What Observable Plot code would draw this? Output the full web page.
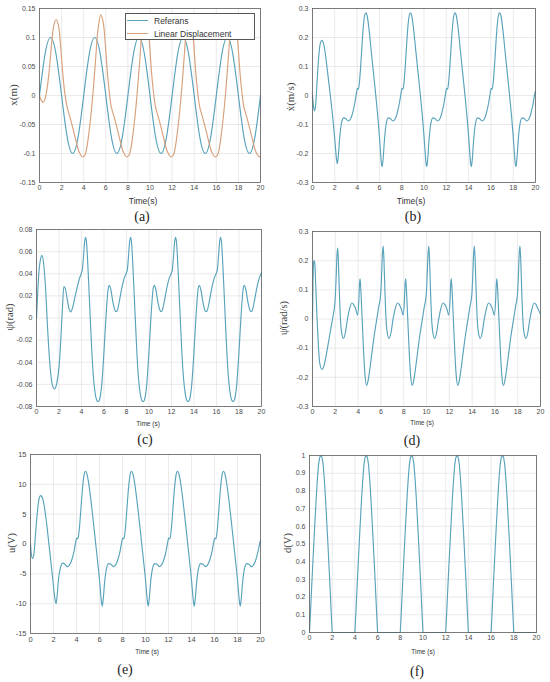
<!DOCTYPE html>
<html><head><meta charset="utf-8">
<script src="https://cdn.jsdelivr.net/npm/d3@7"></script>
<script src="https://cdn.jsdelivr.net/npm/@observablehq/plot@0.6"></script>
<style>
body{margin:0;background:#fff;}
#fig{position:relative;width:550px;height:682px;overflow:hidden;background:#fff;}
.lab{position:absolute;white-space:nowrap;line-height:1;transform:translate(-50%,-50%);}
.ylab{position:absolute;white-space:nowrap;line-height:1;transform:translate(-50%,-50%) rotate(-90deg);font-family:"Liberation Serif","Times New Roman",serif;color:#444;}
</style></head>
<body><div id="fig"></div>
<script>
// ---------- DATA ----------
const xTicks = [0,2,4,6,8,10,12,14,16,18,20];
const xTickLabels = ["0","2","4","6","8","10","12","14","16","18","20"];

const yTicksA = [-0.15,-0.1,-0.05,0,0.05,0.1,0.15];
const yTickLabelsA = ["-0.15","-0.1","-0.05","0","0.05","0.1","0.15"];
const yTicksB = [-0.3,-0.2,-0.1,0,0.1,0.2,0.3];
const yTickLabelsB = ["-0.3","-0.2","-0.1","0","0.1","0.2","0.3"];
const yTicksC = [-0.08,-0.06,-0.04,-0.02,0,0.02,0.04,0.06,0.08];
const yTickLabelsC = ["-0.08","-0.06","-0.04","-0.02","0","0.02","0.04","0.06","0.08"];
const yTicksD = [-0.3,-0.2,-0.1,0,0.1,0.2,0.3];
const yTickLabelsD = ["-0.3","-0.2","-0.1","0","0.1","0.2","0.3"];
const yTicksE = [-15,-10,-5,0,5,10,15];
const yTickLabelsE = ["-15","-10","-5","0","5","10","15"];
const yTicksF = [0,0.1,0.2,0.3,0.4,0.5,0.6,0.7,0.8,0.9,1];
const yTickLabelsF = ["0","0.1","0.2","0.3","0.4","0.5","0.6","0.7","0.8","0.9","1"];

const seriesNames = ["Referans","Linear Displacement"];

// (a) x(m): reference and linear displacement
const referans = [[0,0],[0.5,0.071],[1,0.1],[1.5,0.071],[2,0],[2.5,-0.071],[3,-0.1],[3.5,-0.071],
[4,0],[4.5,0.071],[5,0.1],[5.5,0.071],[6,0],[6.5,-0.071],[7,-0.1],[7.5,-0.071],
[8,0],[8.5,0.071],[9,0.1],[9.5,0.071],[10,0],[10.5,-0.071],[11,-0.1],[11.5,-0.071],
[12,0],[12.5,0.071],[13,0.1],[13.5,0.071],[14,0],[14.5,-0.071],[15,-0.1],[15.5,-0.071],
[16,0],[16.5,0.071],[17,0.1],[17.5,0.071],[18,0],[18.5,-0.071],[19,-0.1],[19.5,-0.071],[20,0]];

const linearDisp = [[0,0],[0.15,-0.008],[0.33,-0.012],[0.5,-0.006],[0.7,0.014],[0.9,0.047],[1.1,0.09],[1.3,0.121],[1.5,0.131],[1.7,0.122],[1.9,0.088],[2.1,0.04],[2.3,0.002],[2.5,-0.02],[2.75,-0.037],[3.0,-0.055],[3.3,-0.078],[3.6,-0.098],[3.9,-0.106],
[4.1,-0.103],[4.3,-0.088],[4.5,-0.06],[4.7,-0.025],[4.9,0.018],[5.1,0.068],[5.3,0.115],[5.55,0.139],[5.75,0.128],[5.95,0.09],[6.15,0.038],[6.35,0.0],[6.5,-0.02],[6.75,-0.037],[7.0,-0.055],[7.3,-0.078],[7.6,-0.098],[7.9,-0.106],
[8.1,-0.103],[8.3,-0.088],[8.5,-0.06],[8.7,-0.025],[8.9,0.018],[9.1,0.068],[9.3,0.115],[9.55,0.139],[9.75,0.128],[9.95,0.09],[10.15,0.038],[10.35,0.0],[10.5,-0.02],[10.75,-0.037],[11.0,-0.055],[11.3,-0.078],[11.6,-0.098],[11.9,-0.106],
[12.1,-0.103],[12.3,-0.088],[12.5,-0.06],[12.7,-0.025],[12.9,0.018],[13.1,0.068],[13.3,0.115],[13.55,0.139],[13.75,0.128],[13.95,0.09],[14.15,0.038],[14.35,0.0],[14.5,-0.02],[14.75,-0.037],[15.0,-0.055],[15.3,-0.078],[15.6,-0.098],[15.9,-0.106],
[16.1,-0.103],[16.3,-0.088],[16.5,-0.06],[16.7,-0.025],[16.9,0.018],[17.1,0.068],[17.3,0.115],[17.55,0.139],[17.75,0.128],[17.95,0.09],[18.15,0.038],[18.35,0.0],[18.5,-0.02],[18.75,-0.037],[19.0,-0.055],[19.3,-0.078],[19.6,-0.098],[19.9,-0.106],[20,-0.105]];

// (b) x-dot (m/s)
const velocity = [[0,0],[0.08,-0.035],[0.18,-0.053],[0.28,-0.035],[0.4,0.04],[0.55,0.13],[0.7,0.18],[0.84,0.19],[1.0,0.178],[1.2,0.13],[1.4,0.065],[1.6,0.0],[1.8,-0.07],[1.95,-0.13],[2.07,-0.185],[2.15,-0.22],[2.23,-0.235],[2.31,-0.21],[2.43,-0.15],[2.6,-0.095],[2.8,-0.077],[3.0,-0.08],[3.2,-0.088],[3.4,-0.082],[3.6,-0.06],[3.8,-0.025],[3.95,0.01],
[4.02,0.025],[4.12,0.022],[4.22,0.05],[4.37,0.13],[4.52,0.22],[4.67,0.275],[4.78,0.285],[4.9,0.275],[5.05,0.235],[5.25,0.16],[5.45,0.085],[5.65,0.01],[5.85,-0.07],[6.0,-0.14],[6.1,-0.195],[6.17,-0.23],[6.25,-0.245],[6.33,-0.22],[6.45,-0.155],[6.6,-0.1],[6.8,-0.077],[7.0,-0.08],[7.2,-0.088],[7.4,-0.082],[7.6,-0.06],[7.8,-0.025],[7.95,0.01],
[8.02,0.025],[8.12,0.022],[8.22,0.05],[8.37,0.13],[8.52,0.22],[8.67,0.275],[8.78,0.285],[8.9,0.275],[9.05,0.235],[9.25,0.16],[9.45,0.085],[9.65,0.01],[9.85,-0.07],[10.0,-0.14],[10.1,-0.195],[10.17,-0.23],[10.25,-0.245],[10.33,-0.22],[10.45,-0.155],[10.6,-0.1],[10.8,-0.077],[11.0,-0.08],[11.2,-0.088],[11.4,-0.082],[11.6,-0.06],[11.8,-0.025],[11.95,0.01],
[12.02,0.025],[12.12,0.022],[12.22,0.05],[12.37,0.13],[12.52,0.22],[12.67,0.275],[12.78,0.285],[12.9,0.275],[13.05,0.235],[13.25,0.16],[13.45,0.085],[13.65,0.01],[13.85,-0.07],[14.0,-0.14],[14.1,-0.195],[14.17,-0.23],[14.25,-0.245],[14.33,-0.22],[14.45,-0.155],[14.6,-0.1],[14.8,-0.077],[15.0,-0.08],[15.2,-0.088],[15.4,-0.082],[15.6,-0.06],[15.8,-0.025],[15.95,0.01],
[16.02,0.025],[16.12,0.022],[16.22,0.05],[16.37,0.13],[16.52,0.22],[16.67,0.275],[16.78,0.285],[16.9,0.275],[17.05,0.235],[17.25,0.16],[17.45,0.085],[17.65,0.01],[17.85,-0.07],[18.0,-0.14],[18.1,-0.195],[18.17,-0.23],[18.25,-0.245],[18.33,-0.22],[18.45,-0.155],[18.6,-0.1],[18.8,-0.077],[19.0,-0.08],[19.2,-0.088],[19.4,-0.082],[19.6,-0.06],[19.8,-0.025],[19.95,0.01],[20,0.015]];

// (c) psi (rad)
const angle = [[0,0],[0.1,0.022],[0.22,0.042],[0.35,0.053],[0.48,0.0565],[0.6,0.052],[0.8,0.028],[1.0,-0.012],[1.2,-0.043],[1.4,-0.06],[1.6,-0.064],[1.8,-0.059],[2.0,-0.044],[2.15,-0.022],[2.3,0.008],[2.43,0.0285],[2.55,0.027],[2.7,0.019],[2.9,0.008],[3.03,0.0055],[3.2,0.009],[3.4,0.018],[3.6,0.027],[3.8,0.035],
[4.0,0.041],[4.08,0.044],[4.18,0.056],[4.28,0.069],[4.37,0.073],[4.45,0.068],[4.6,0.04],[4.8,-0.005],[5.0,-0.045],[5.2,-0.067],[5.4,-0.075],[5.5,-0.0755],[5.6,-0.074],[5.8,-0.06],[6.0,-0.03],[6.2,0.005],[6.38,0.027],[6.48,0.0295],[6.6,0.026],[6.8,0.014],[7.0,0.0065],[7.1,0.0058],[7.2,0.0075],[7.4,0.017],[7.6,0.028],[7.8,0.036],
[8.0,0.041],[8.08,0.044],[8.18,0.056],[8.28,0.069],[8.37,0.073],[8.45,0.068],[8.6,0.04],[8.8,-0.005],[9.0,-0.045],[9.2,-0.067],[9.4,-0.075],[9.5,-0.0755],[9.6,-0.074],[9.8,-0.06],[10.0,-0.03],[10.2,0.005],[10.38,0.027],[10.48,0.0295],[10.6,0.026],[10.8,0.014],[11.0,0.0065],[11.1,0.0058],[11.2,0.0075],[11.4,0.017],[11.6,0.028],[11.8,0.036],
[12.0,0.041],[12.08,0.044],[12.18,0.056],[12.28,0.069],[12.37,0.073],[12.45,0.068],[12.6,0.04],[12.8,-0.005],[13.0,-0.045],[13.2,-0.067],[13.4,-0.075],[13.5,-0.0755],[13.6,-0.074],[13.8,-0.06],[14.0,-0.03],[14.2,0.005],[14.38,0.027],[14.48,0.0295],[14.6,0.026],[14.8,0.014],[15.0,0.0065],[15.1,0.0058],[15.2,0.0075],[15.4,0.017],[15.6,0.028],[15.8,0.036],
[16.0,0.041],[16.08,0.044],[16.18,0.056],[16.28,0.069],[16.37,0.073],[16.45,0.068],[16.6,0.04],[16.8,-0.005],[17.0,-0.045],[17.2,-0.067],[17.4,-0.075],[17.5,-0.0755],[17.6,-0.074],[17.8,-0.06],[18.0,-0.03],[18.2,0.005],[18.38,0.027],[18.48,0.0295],[18.6,0.026],[18.8,0.014],[19.0,0.0065],[19.1,0.0058],[19.2,0.0075],[19.4,0.017],[19.6,0.028],[19.8,0.036],[20,0.041]];

// (d) psi-dot (rad/s)
const angularRate = [[0,0],[0.04,0.12],[0.1,0.195],[0.15,0.2],[0.2,0.19],[0.28,0.12],[0.38,0.02],[0.5,-0.08],[0.63,-0.15],[0.83,-0.173],[1.0,-0.162],[1.2,-0.125],[1.4,-0.08],[1.6,-0.035],[1.8,0.01],[1.98,0.062],[2.07,0.14],[2.15,0.22],[2.21,0.243],[2.27,0.2],[2.35,0.1],[2.45,0.0],[2.55,-0.045],[2.72,-0.067],[2.88,-0.048],[3.05,-0.005],[3.25,0.035],[3.45,0.055],[3.6,0.05],[3.8,0.033],[3.95,0.013],
[4.06,0.06],[4.12,0.118],[4.17,0.138],[4.22,0.115],[4.3,0.05],[4.4,-0.04],[4.5,-0.125],[4.6,-0.19],[4.74,-0.228],[4.86,-0.215],[5.0,-0.18],[5.2,-0.12],[5.4,-0.06],[5.6,-0.01],[5.8,0.04],[5.98,0.085],[6.05,0.14],[6.13,0.22],[6.2,0.25],[6.27,0.2],[6.35,0.1],[6.45,0.0],[6.55,-0.045],[6.72,-0.067],[6.88,-0.048],[7.05,-0.005],[7.25,0.035],[7.45,0.055],[7.6,0.05],[7.8,0.033],[7.95,0.013],
[8.06,0.06],[8.12,0.118],[8.17,0.138],[8.22,0.115],[8.3,0.05],[8.4,-0.04],[8.5,-0.125],[8.6,-0.19],[8.74,-0.228],[8.86,-0.215],[9.0,-0.18],[9.2,-0.12],[9.4,-0.06],[9.6,-0.01],[9.8,0.04],[9.98,0.085],[10.05,0.14],[10.13,0.22],[10.2,0.25],[10.27,0.2],[10.35,0.1],[10.45,0.0],[10.55,-0.045],[10.72,-0.067],[10.88,-0.048],[11.05,-0.005],[11.25,0.035],[11.45,0.055],[11.6,0.05],[11.8,0.033],[11.95,0.013],
[12.06,0.06],[12.12,0.118],[12.17,0.138],[12.22,0.115],[12.3,0.05],[12.4,-0.04],[12.5,-0.125],[12.6,-0.19],[12.74,-0.228],[12.86,-0.215],[13.0,-0.18],[13.2,-0.12],[13.4,-0.06],[13.6,-0.01],[13.8,0.04],[13.98,0.085],[14.05,0.14],[14.13,0.22],[14.2,0.25],[14.27,0.2],[14.35,0.1],[14.45,0.0],[14.55,-0.045],[14.72,-0.067],[14.88,-0.048],[15.05,-0.005],[15.25,0.035],[15.45,0.055],[15.6,0.05],[15.8,0.033],[15.95,0.013],
[16.06,0.06],[16.12,0.118],[16.17,0.138],[16.22,0.115],[16.3,0.05],[16.4,-0.04],[16.5,-0.125],[16.6,-0.19],[16.74,-0.228],[16.86,-0.215],[17.0,-0.18],[17.2,-0.12],[17.4,-0.06],[17.6,-0.01],[17.8,0.04],[17.98,0.085],[18.05,0.14],[18.13,0.22],[18.2,0.25],[18.27,0.2],[18.35,0.1],[18.45,0.0],[18.55,-0.045],[18.72,-0.067],[18.88,-0.048],[19.05,-0.005],[19.25,0.035],[19.45,0.055],[19.6,0.05],[19.8,0.033],[20,0.017]];

// (e) u (V)
const voltage = [[0,0],[0.08,-1.8],[0.18,-2.4],[0.3,-1.6],[0.45,2.0],[0.6,5.4],[0.75,7.6],[0.88,8.1],[1.0,7.9],[1.2,6.3],[1.4,3.5],[1.6,0.0],[1.8,-3.5],[1.95,-6.2],[2.07,-8.4],[2.15,-9.5],[2.22,-10.0],[2.3,-9.0],[2.43,-6.0],[2.6,-4.0],[2.8,-3.2],[3.0,-3.4],[3.2,-3.8],[3.4,-3.5],[3.6,-2.6],[3.8,-1.1],[3.95,0.5],
[4.02,1.0],[4.12,0.85],[4.22,2.0],[4.37,5.5],[4.52,9.3],[4.67,11.7],[4.78,12.2],[4.9,11.8],[5.05,10.3],[5.25,7.4],[5.45,4.0],[5.65,0.4],[5.85,-3.2],[6.0,-6.0],[6.1,-8.3],[6.17,-9.7],[6.24,-10.4],[6.32,-9.3],[6.45,-6.3],[6.6,-4.2],[6.8,-3.3],[7.0,-3.4],[7.2,-3.8],[7.4,-3.5],[7.6,-2.6],[7.8,-1.1],[7.95,0.5],
[8.02,1.0],[8.12,0.85],[8.22,2.0],[8.37,5.5],[8.52,9.3],[8.67,11.7],[8.78,12.2],[8.9,11.8],[9.05,10.3],[9.25,7.4],[9.45,4.0],[9.65,0.4],[9.85,-3.2],[10.0,-6.0],[10.1,-8.3],[10.17,-9.7],[10.24,-10.4],[10.32,-9.3],[10.45,-6.3],[10.6,-4.2],[10.8,-3.3],[11.0,-3.4],[11.2,-3.8],[11.4,-3.5],[11.6,-2.6],[11.8,-1.1],[11.95,0.5],
[12.02,1.0],[12.12,0.85],[12.22,2.0],[12.37,5.5],[12.52,9.3],[12.67,11.7],[12.78,12.2],[12.9,11.8],[13.05,10.3],[13.25,7.4],[13.45,4.0],[13.65,0.4],[13.85,-3.2],[14.0,-6.0],[14.1,-8.3],[14.17,-9.7],[14.24,-10.4],[14.32,-9.3],[14.45,-6.3],[14.6,-4.2],[14.8,-3.3],[15.0,-3.4],[15.2,-3.8],[15.4,-3.5],[15.6,-2.6],[15.8,-1.1],[15.95,0.5],
[16.02,1.0],[16.12,0.85],[16.22,2.0],[16.37,5.5],[16.52,9.3],[16.67,11.7],[16.78,12.2],[16.9,11.8],[17.05,10.3],[17.25,7.4],[17.45,4.0],[17.65,0.4],[17.85,-3.2],[18.0,-6.0],[18.1,-8.3],[18.17,-9.7],[18.24,-10.4],[18.32,-9.3],[18.45,-6.3],[18.6,-4.2],[18.8,-3.3],[19.0,-3.4],[19.2,-3.8],[19.4,-3.5],[19.6,-2.6],[19.8,-1.1],[19.95,0.3],[20,0.6]];

// (f) d (V)
const disturbance = [[0,0],[0.1,0.13],[0.2,0.27],[0.3,0.4],[0.4,0.53],[0.5,0.65],[0.6,0.77],[0.7,0.87],[0.8,0.95],[0.9,0.99],[1,1],[1.1,0.99],[1.2,0.95],[1.3,0.87],[1.4,0.77],[1.5,0.65],[1.6,0.53],[1.7,0.4],[1.8,0.27],[1.9,0.13],[2,0],
[4,0],[4.1,0.13],[4.2,0.27],[4.3,0.4],[4.4,0.53],[4.5,0.65],[4.6,0.77],[4.7,0.87],[4.8,0.95],[4.9,0.99],[5,1],[5.1,0.99],[5.2,0.95],[5.3,0.87],[5.4,0.77],[5.5,0.65],[5.6,0.53],[5.7,0.4],[5.8,0.27],[5.9,0.13],[6,0],
[8,0],[8.1,0.13],[8.2,0.27],[8.3,0.4],[8.4,0.53],[8.5,0.65],[8.6,0.77],[8.7,0.87],[8.8,0.95],[8.9,0.99],[9,1],[9.1,0.99],[9.2,0.95],[9.3,0.87],[9.4,0.77],[9.5,0.65],[9.6,0.53],[9.7,0.4],[9.8,0.27],[9.9,0.13],[10,0],
[12,0],[12.1,0.13],[12.2,0.27],[12.3,0.4],[12.4,0.53],[12.5,0.65],[12.6,0.77],[12.7,0.87],[12.8,0.95],[12.9,0.99],[13,1],[13.1,0.99],[13.2,0.95],[13.3,0.87],[13.4,0.77],[13.5,0.65],[13.6,0.53],[13.7,0.4],[13.8,0.27],[13.9,0.13],[14,0],
[16,0],[16.1,0.13],[16.2,0.27],[16.3,0.4],[16.4,0.53],[16.5,0.65],[16.6,0.77],[16.7,0.87],[16.8,0.95],[16.9,0.99],[17,1],[17.1,0.99],[17.2,0.95],[17.3,0.87],[17.4,0.77],[17.5,0.65],[17.6,0.53],[17.7,0.4],[17.8,0.27],[17.9,0.13],[18,0],[20,0]];

// ---------- STYLE / LAYOUT ----------
const BLUE = "#58a3bb";
const ORANGE = "#d9a07c";
const GRID = "#e1e1e1";
const FRAME = "#5f5f5f";
const fig = document.getElementById("fig");

function fmt(ticks, labels){ return d => { const i = ticks.findIndex(t => Math.abs(t - d) < 1e-9); return i < 0 ? "" : labels[i]; }; }

function panel(p){
  const ml = 34, mr = 8, mt = 6, mb = 16;
  const [x0, x1, y0, y1] = p.frame;
  const chart = Plot.plot({
    width: (x1 - x0) + ml + mr,
    height: (y1 - y0) + mt + mb,
    marginLeft: ml, marginRight: mr, marginTop: mt, marginBottom: mb,
    style: {fontFamily: "'Liberation Sans', Arial, sans-serif", fontSize: p.tickFont + "px", color: "#4a4a4a", background: "transparent", overflow: "visible"},
    x: {domain: [0, 20]},
    y: {domain: p.yDomain},
    marks: [
      Plot.gridX({ticks: xTicks, stroke: GRID, strokeOpacity: 1, strokeWidth: 0.7}),
      Plot.gridY({ticks: p.yTicks, stroke: GRID, strokeOpacity: 1, strokeWidth: 0.7}),
      ...p.series.map(s => Plot.line(s.data, {x: d => d[0], y: d => d[1], stroke: s.color, strokeWidth: 1.15, curve: s.curve})),
      Plot.frame({stroke: FRAME, strokeWidth: 0.8}),
      Plot.axisX({ticks: xTicks, tickSize: 0, tickPadding: 3, tickFormat: fmt(xTicks, xTickLabels), label: null}),
      Plot.axisY({ticks: p.yTicks, tickSize: 0, tickPadding: 4, tickFormat: fmt(p.yTicks, p.yTickLabels), label: null})
    ]
  });
  chart.style.position = "absolute";
  chart.style.left = (x0 - ml) + "px";
  chart.style.top = (y0 - mt) + "px";
  fig.appendChild(chart);
}

panel({frame:[39,260,8,182], yDomain:[-0.15,0.15], yTicks:yTicksA, yTickLabels:yTickLabelsA, tickFont:7,
  series:[{data:referans, color:BLUE, curve:"natural"},{data:linearDisp, color:ORANGE, curve:"catmull-rom"}]});
panel({frame:[312,535,8,182], yDomain:[-0.3,0.3], yTicks:yTicksB, yTickLabels:yTickLabelsB, tickFont:7,
  series:[{data:velocity, color:BLUE, curve:"monotone-x"}]});
panel({frame:[36,261,229,406], yDomain:[-0.08,0.08], yTicks:yTicksC, yTickLabels:yTickLabelsC, tickFont:7,
  series:[{data:angle, color:BLUE, curve:"monotone-x"}]});
panel({frame:[312,540,231,406], yDomain:[-0.3,0.3], yTicks:yTicksD, yTickLabels:yTickLabelsD, tickFont:7,
  series:[{data:angularRate, color:BLUE, curve:"monotone-x"}]});
panel({frame:[30,260,454,633], yDomain:[-15,15], yTicks:yTicksE, yTickLabels:yTickLabelsE, tickFont:7.5,
  series:[{data:voltage, color:BLUE, curve:"monotone-x"}]});
panel({frame:[309,536,455,632], yDomain:[0,1], yTicks:yTicksF, yTickLabels:yTickLabelsF, tickFont:7,
  series:[{data:disturbance, color:BLUE, curve:"linear"}]});

// ---------- TEXT ----------
function addText(cls, text, x, y, css){
  const el = document.createElement("div");
  el.className = cls; el.textContent = text;
  el.style.left = x + "px"; el.style.top = y + "px";
  Object.assign(el.style, css || {});
  fig.appendChild(el);
}
const sans = "'Liberation Sans', Arial, sans-serif";
const serif = "'Liberation Serif', 'Times New Roman', serif";
// x-axis titles
addText("lab", "Time(s)", 143, 201, {fontFamily: sans, fontSize: "8.5px", color: "#333"});
addText("lab", "Time(s)", 411, 201, {fontFamily: sans, fontSize: "8.5px", color: "#333"});
addText("lab", "Time (s)", 148, 424, {fontFamily: sans, fontSize: "6.5px", color: "#333"});
addText("lab", "Time (s)", 422, 423, {fontFamily: sans, fontSize: "6.5px", color: "#333"});
addText("lab", "Time (s)", 147, 652, {fontFamily: sans, fontSize: "6.5px", color: "#333"});
addText("lab", "Time (s)", 423, 652, {fontFamily: sans, fontSize: "6.5px", color: "#333"});
// y-axis titles
addText("ylab", "x(m)", 13, 95, {fontSize: "11px"});
addText("ylab", "\u1E8B(m/s)", 290, 97, {fontSize: "11px"});
addText("ylab", "\u03C8(rad)", 10, 317, {fontSize: "10.5px"});
addText("ylab", "\u03C8\u0307(rad/s)", 284, 318, {fontSize: "10.5px"});
addText("ylab", "u(V)", 12, 543, {fontSize: "10.5px"});
addText("ylab", "d(V)", 288, 543, {fontSize: "10.5px"});
// panel letters
[["(a)",142,217],["(b)",413,217],["(c)",145,440],["(d)",412,441],["(e)",125,670],["(f)",417,672]]
  .forEach(([t,x,y]) => addText("lab", t, x, y, {fontFamily: serif, fontSize: "14px", color: "#222"}));

// legend for (a)
const leg = document.createElement("div");
Object.assign(leg.style, {position:"absolute", left:"125px", top:"13px", width:"130px", height:"27px", boxSizing:"border-box", border:"0.8px solid #555", background:"#fff"});
[[seriesNames[0], BLUE, 7],[seriesNames[1], ORANGE, 19.5]].forEach(([name, color, cy]) => {
  const ln = document.createElement("div");
  Object.assign(ln.style, {position:"absolute", left:"1px", width:"21px", top:(cy - 0.6) + "px", height:"0", borderTop:"1.2px solid " + color});
  leg.appendChild(ln);
  const tx = document.createElement("div");
  tx.textContent = name;
  Object.assign(tx.style, {position:"absolute", left:"28px", top:cy + "px", transform:"translateY(-50%)", fontFamily:sans, fontSize:"8.5px", color:"#333", whiteSpace:"nowrap", lineHeight:"1"});
  leg.appendChild(tx);
});
fig.appendChild(leg);
</script>
</body></html>
